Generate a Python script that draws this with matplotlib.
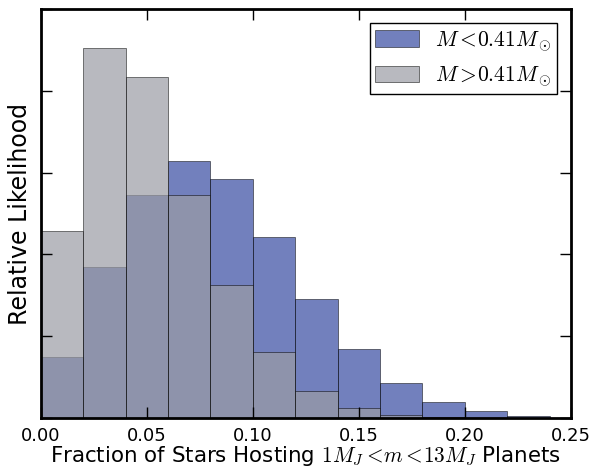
import numpy as np
import matplotlib
matplotlib.use("Agg")
import matplotlib.pyplot as plt

# Data (bin edges and relative likelihood values)
bin_edges = [0.00, 0.02, 0.04, 0.06, 0.08, 0.10, 0.12, 0.14, 0.16, 0.18, 0.20, 0.22, 0.24]
low_mass = [0.74, 1.845, 2.73, 3.14, 2.92, 2.21, 1.457, 0.84, 0.425, 0.19, 0.078, 0.025]
high_mass = [2.285, 4.53, 4.17, 2.73, 1.62, 0.80, 0.33, 0.12, 0.037, 0.005, 0.0, 0.0]
labels = [r'$M<\!0.41M_\odot$', r'$M>\!0.41M_\odot$']
xticks = [0.00, 0.05, 0.10, 0.15, 0.20, 0.25]
xticklabels = ['0.00', '0.05', '0.10', '0.15', '0.20', '0.25']

plt.rcParams['mathtext.fontset'] = 'cm'
plt.rcParams['font.family'] = ['DejaVu Sans']

fig = plt.figure(figsize=(5.91, 4.67), dpi=100)
ax = fig.add_axes([0.0689, 0.1056, 0.8968, 0.8741])

lefts = bin_edges[:-1]
widths = np.diff(bin_edges)
ax.bar(lefts, low_mass, width=widths, align='edge', color='#374ba2', alpha=0.7,
       edgecolor='black', linewidth=0.5, label=labels[0])
ax.bar(lefts, high_mass, width=widths, align='edge', color='#9b9ca4', alpha=0.7,
       edgecolor='black', linewidth=0.5, label=labels[1])

ax.set_xlim(0, 0.25)
ax.set_ylim(0, 5)
ax.set_xticks(xticks)
ax.set_xticklabels(xticklabels)
ax.set_yticks([0, 1, 2, 3, 4, 5])
ax.set_yticklabels([])
ax.tick_params(direction='in', top=True, right=True, length=8, width=1,
               labelsize=13, pad=7)
for s in ax.spines.values():
    s.set_linewidth(2)

ax.set_ylabel('Relative Likelihood', fontsize=17)
ax.yaxis.set_label_coords(-0.016, 0.5)
ax.set_xlabel(r'Fraction of Stars Hosting $1M_J<\!m<\!13M_J$ Planets', fontsize=15.4, labelpad=-1)

leg = ax.legend(loc='upper right', fontsize=15.5, fancybox=False, framealpha=1,
                edgecolor='black', handlelength=2.0, handleheight=0.8,
                borderpad=0.25, labelspacing=0.5, handletextpad=0.75,
                borderaxespad=0.65)
leg.get_frame().set_linewidth(1.0)

fig.savefig('out.png', dpi=100)
